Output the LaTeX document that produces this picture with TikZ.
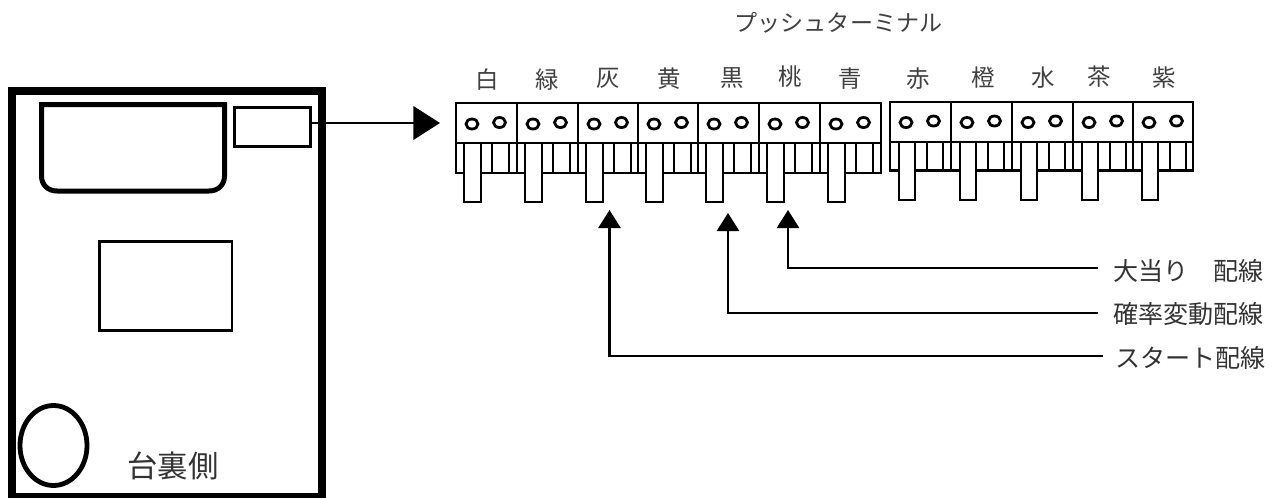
\documentclass[tikz,border=0pt]{standalone}
\usepackage{fontspec}
\setmainfont{Noto Sans CJK JP}
\usetikzlibrary{arrows.meta}
\tikzset{
  x=0.75pt,y=-0.75pt,
  px/.style={line width=#1*0.75pt},
  part/.style={draw=black,px=2.8,fill=white,line join=miter},
  hole/.style={draw=black,px=2.8,fill=white},
  wire/.style={draw=black,px=2.8,line join=miter},
  feed/.style={wire,-{Triangle[length=13.5pt,width=16.5pt]}},
  feedb/.style={draw=black,px=2.8,-{Triangle[length=20pt,width=25pt]}},
  colour/.style={text=black!75,font=\fontsize{17.6pt}{17.6pt}\selectfont,inner sep=0pt},
  note/.style={text=black!80,font=\fontsize{18.8pt}{18.8pt}\selectfont,inner sep=0pt,anchor=west},
  blank/.style={draw=black,fill=white,inner sep=0pt,outer sep=0pt,anchor=north west},
}
\begin{document}
\begin{tikzpicture}
\useasboundingbox (0,0) rectangle (1283,497);
\fill[white] (0,0) rectangle (1283,497);
% board
\draw[px=8] (12,91) rectangle (322,497);
\draw[px=5,line join=miter] (41.5,104.5) -- (41.5,176) .. controls (41.5,185) and (48,191) .. (57,191)
   -- (209,191) .. controls (218,191) and (224.5,185) .. (224.5,176) -- (224.5,104.5) -- cycle;
\node[blank,px=3,minimum width=57pt,minimum height=29.6pt] (conn) at (234.5,107) {};
\node[blank,px=2.6,minimum width=99.4pt,minimum height=66.8pt] (panel) at (99.5,241.5) {};
\draw[px=4.8] (53.5,445.5) ellipse (33.5 and 40);
\node[inner sep=0pt,text=black!80,font=\fontsize{22.8pt}{22.8pt}\selectfont] (back) at (173,466) {台裏側};
% terminals, group 1
\foreach \x/\w/\d in {456/61/0,517/61/0,578/60/1,638/60/1,698/61/1,759/61/0,820/61/1}{
  \draw[part] (\x,173) -- (\x,143) -- (\x+\w,143) -- (\x+\w,173) -- cycle;
  \foreach \o in {36,53}{\draw[wire] (\x+\o,143) -- (\x+\o,172);}
  \draw[part] (\x+8,143) rectangle (\x+25,202);
  \draw[part] (\x,103) rectangle (\x+\w,143);
  \draw[hole] (\x+16,124) ellipse (6 and 5);
  \draw[hole] (\x+43.5,122.5) ellipse (6 and 5);
}
% terminals, group 2
\foreach \x/\w/\d in {890/61/0,951/61/0,1012/61/0,1073/60/0,1133/60/0}{
  \draw[part] (\x,170.5) -- (\x,142) -- (\x+\w,142) -- (\x+\w,170.5) -- cycle;
  \foreach \o in {37,53}{\draw[wire] (\x+\o,142) -- (\x+\o,170);}
  \draw[part] (\x+9,142) rectangle (\x+25,200);
  \draw[part] (\x,102) rectangle (\x+\w,142);
  \draw[hole] (\x+16,122.5) ellipse (6 and 5);
  \draw[hole] (\x+43.5,121) ellipse (6 and 5);
}
% colour labels
\foreach \t/\x/\y in {白/487/80,緑/547/80,灰/608/78,黄/669/79,黒/732/78,桃/790/77,青/850/79,赤/918/79,橙/983/78,水/1043/78,茶/1099/77,紫/1164/78}{
  \node[colour] at (\x,\y) {\t};
}
\node[colour,font=\fontsize{17.3pt}{17.3pt}\selectfont] (title) at (838.5,23) {プッシュターミナル};
% notes
\node[note] (n1) at (1113,271) {大当り　配線};
\node[note] (n2) at (1113,314) {確率変動配線};
\node[note] (n3) at (1115,358) {スタート配線};
\coordinate (e1) at (1098,268);
\coordinate (e2) at (1098,313);
\coordinate (e3) at (1103,356);
\coordinate (t1) at (788,210);
\coordinate (t2) at (728,213);
\coordinate (t3) at (609.5,210);
\coordinate (t0) at (440,123);
\draw[feedb] (conn.east |- t0) -- (t0);
\draw[feed] (e1) -| (t1);
\draw[feed] (e2) -| (t2);
\draw[feed] (e3) -| (t3);
\end{tikzpicture}
\end{document}
